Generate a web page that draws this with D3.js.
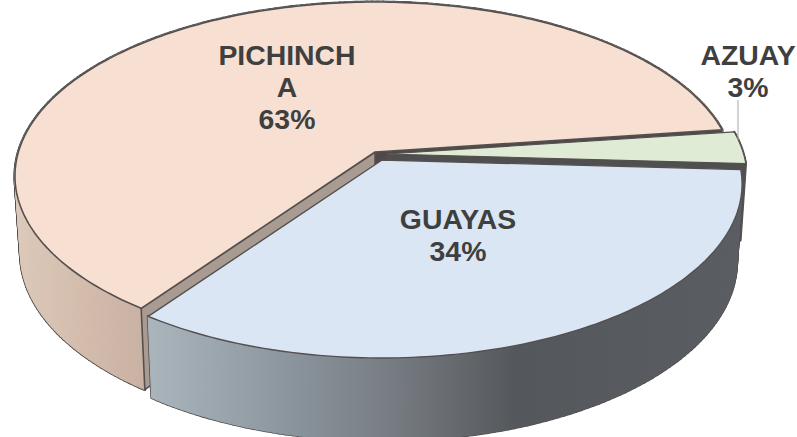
<!DOCTYPE html>
<html><head><meta charset="utf-8">
<script src="https://cdn.jsdelivr.net/npm/d3@7"></script>
<style>html,body{margin:0;background:#fff}svg{display:block}text{font-family:"Liberation Sans",Arial,sans-serif;font-weight:bold;fill:#3f3f3f;font-size:28.4px;text-anchor:middle}</style>
</head><body><svg id="c" width="797" height="437"></svg>
<script>
const categories = ["PICHINCHA","AZUAY","GUAYAS"];
const values = [63,3,34];
const labelLines = [["PICHINCH","A","63%"],["AZUAY","3%"],["GUAYAS","34%"]];
const topColors = ["#f7e0d1","#dfebd4","#dbe6f4"];

const W=797,H=437, deg=Math.PI/180;
const apex={x:375,y:152}, a=.138, A=149.7, w=356.6;
const explode=[[0,0],[12,2],[7,8]];
const sx=.985, sy=1.03, oy=72, vx=384;
const labelPos=[[287,65],[748,65],[458,229]];

const svg=d3.select("#c");
const defs=svg.append("defs");
function grad(id,stops,x1,x2){
  const g=defs.append("linearGradient").attr("id",id).attr("gradientUnits","userSpaceOnUse").attr("x1",x1).attr("x2",x2).attr("y1",0).attr("y2",0);
  stops.forEach(s=>g.append("stop").attr("offset",s[0]).attr("stop-color",s[1]));
}
grad("gP",[[0,"#dcc9ba"],[.5,"#d3bcac"],[1,"#c8b0a2"]],18,150);
grad("gG",[[0,"#aab4bb"],[.2,"#8f9aa2"],[.42,"#757a80"],[.62,"#54585c"],[1,"#5a5e62"]],152,740);

const pie=d3.pie().sort(null).value(d=>d).startAngle(215.6*deg).endAngle((215.6+360)*deg);
const arcs=pie(values);

function proj(theta,r,i){
  const u=Math.sin(theta)*r, v=-Math.cos(theta)*r, k=1-a*v;
  return [apex.x+w*u/k+explode[i][0], (A*v+apex.y)/k+explode[i][1]];
}
const drop=p=>[vx+(p[0]-vx)*sx, p[1]*sy+oy];
const line=d3.line();
function rim(d,i){
  const n=Math.max(4,Math.ceil((d.endAngle-d.startAngle)/deg));
  const s=d3.scaleLinear().domain([0,n]).range([d.startAngle,d.endAngle]);
  return d3.range(n+1).map(t=>proj(s(t),1,i));
}
const stroke="#555050";

function wall(pts,fill,sw){
  svg.append("path").attr("d",line(pts)+"Z").attr("fill",fill).attr("stroke",stroke).attr("stroke-width",sw).attr("stroke-linejoin","round");
}
function plate(p1,p2,fill,sw){ wall([p1,p2,drop(p2),drop(p1)],fill,sw); }
// swept side: outline of every quad first, then fills, so only the union's edge keeps a line
function sweep(r,fill,sw){
  const quads=d3.pairs(r).map(([p,q])=>[p,q,drop(q),drop(p)]);
  quads.forEach(q=>svg.append("path").attr("d",line(q)+"Z").attr("fill","none").attr("stroke",stroke).attr("stroke-width",sw+1.2).attr("stroke-linejoin","round"));
  quads.forEach(q=>svg.append("path").attr("d",line(q)+"Z").attr("fill",fill).attr("stroke",fill).attr("stroke-width",1.2).attr("stroke-linejoin","round"));
}

// PICHINCHA
let d=arcs[0], r=rim(d,0), c=proj(0,0,0);
sweep(r,"url(#gP)",1.8);
plate(c,r[r.length-1],"#4f4a47",1);
plate(c,r[0],"#a99b91",1.6);
wall([c,...r],topColors[0],1.6);

// AZUAY
d=arcs[1]; r=rim(d,1); c=proj(0,0,1);
sweep(r,"#55585b",1.2);
plate(c,r[r.length-1],"#4f4f50",1);
wall([c,...r],topColors[1],1.2);

// GUAYAS
d=arcs[2]; r=rim(d,2); c=proj(0,0,2);
plate(c,r[0],"#4f4f50",1);
sweep(r,"url(#gG)",1.6);
wall([c,...r],topColors[2],1.4);

// leader
const lead=d3.scaleLinear().domain([0,1]).range([100,140]);
svg.append("line").attr("x1",738).attr("x2",738).attr("y1",lead(0)).attr("y2",lead(1)).attr("stroke","#a6a6a6").attr("stroke-width",1);

labelLines.forEach((ls,i)=>{
  ls.forEach((t,j)=>svg.append("text").attr("x",labelPos[i][0]).attr("y",labelPos[i][1]+j*32).text(t));
});
</script></body></html>
